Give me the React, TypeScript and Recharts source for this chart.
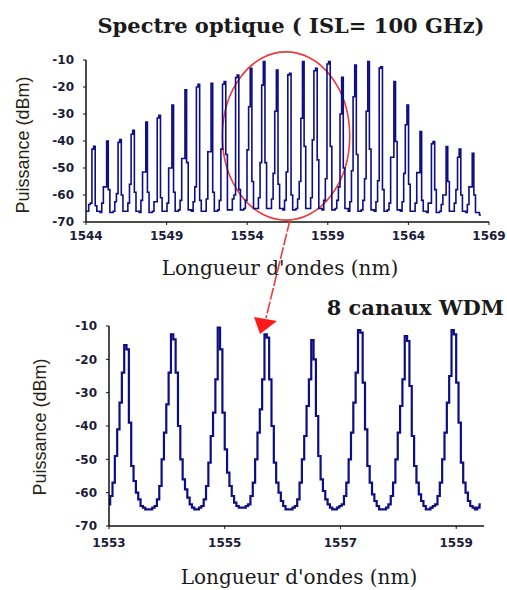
import React from "react";
import { LineChart, Line, XAxis, YAxis, ReferenceArea } from "recharts";

// ---- top spectrum: 30 channels on a 100 GHz grid ----
const topFirstChannel = 1544.52;
const topSpacing = 0.81;
const topSampleStep = 0.101;
const topPeak = [
  -42, -40, -39.5, -36, -33, -30.5, -26.7, -21, -19, -18.6,
  -18, -15.6, -13.1, -10.6, -13.7, -14.9, -10.6, -13.1, -10.6, -16.4,
  -11.9, -10.6, -12.5, -18, -26.7, -36.5, -40.2, -42.1, -43, -44.6,
];
const topInner = [
  -43, -57, -40.5, -37.5, -51.5, -31.5, -50, -46.5, -20, -44,
  -19, -16.5, -27.3, -19.3, -29, -15.5, -31.6, -14, -11.5, -30,
  -23.6, -29, -13, -46, -34, -51.7, -41, -60, -46, -57,
];
const topShoulderL = [
  -63, -57, -59.5, -56, -51.5, -62.5, -50, -46.5, -57, -44,
  -43, -60, -43.3, -48, -52, -51.5, -55, -39.6, -54, -57,
  -51, -54, -54.7, -46, -52, -51.7, -63, -60, -58, -57,
];
const topShoulderR = [
  -64, -58, -60, -59, -59, -61, -59, -48, -62, -59,
  -45, -58, -55, -48, -56, -60, -42, -47, -42, -50,
  -45, -43, -58, -40.2, -56, -62, -58, -55, -60, -60,
];
const topBump = [
  -63.5, -63, -62.5, -63, -62, -62.5, -63, -62, -62.5, -61.5,
  -62, -61.5, -62, -61, -61.5, -62, -61.5, -61, -62, -62,
  -62.5, -62, -62.5, -63, -62.5, -63, -63, -63.5, -63, -63.5,
];
const topValley = [
  -66, -66.5, -66, -66, -66.5, -66, -66, -65.5, -66, -66,
  -65.5, -65.5, -65, -65, -65, -65.5, -65, -65, -65.5, -65,
  -66, -65.5, -66, -65.5, -66, -66, -66.5, -66, -66, -66.5,
];
const topEdges = [
  { x: 1544.0, y: -66 },
  { x: 1568.5, y: -67.4 },
];
const topTicks = [1544, 1549, 1554, 1559, 1564, 1569];

// ---- zoom on 8 WDM channels (one row per channel) ----
const wdmStart = 1553.0;
const wdmStep = 0.0404;
const wdmRows = [
  [-63.5, -61, -57, -49, -41, -33, -24, -15.7, -17, -39, -52, -56.5, -60, -62, -64, -64.5, -65, -65, -65, -64.5],
  [-64, -62, -58, -50, -42, -33.5, -24, -12.5, -14, -24, -40, -50, -56, -59, -61.5, -63.5, -64.5, -65, -65, -64.5],
  [-64, -62, -58, -51, -43, -36, -26, -10.5, -17, -36, -47, -54, -58, -61, -63, -64, -64.5, -64.5, -64.5, -64],
  [-63.5, -61, -57, -50, -42, -35, -26, -12.5, -13.5, -26, -40, -51, -57, -60, -62.5, -64, -65, -65, -65, -64.5],
  [-64, -62, -57, -50, -43, -34, -26, -14.2, -20, -37, -49, -56, -59.5, -62, -63.5, -64.5, -65, -65, -64.5, -64],
  [-63.5, -61, -57, -50, -42, -33, -24, -11.2, -12, -27, -41, -52, -57, -60.5, -62.5, -64, -65, -65, -65, -64.5],
  [-63.5, -61, -57, -50, -42, -34, -26, -13, -14.5, -28, -43, -52, -57, -60.5, -62.5, -64, -65, -65, -64.5, -64],
  [-63.5, -61, -57, -50, -42, -33, -25, -11.2, -12.5, -27, -39, -51, -57, -60, -62.5, -64, -64.5, -65, -64.5, -63.5],
];
const wdmTicks = [1553, 1555, 1557, 1559];
const powerTicks = [-70, -60, -50, -40, -30, -20, -10];

const topData: { x: number; y: number }[] = [topEdges[0]];
topPeak.forEach((p, i) => {
  const c = topFirstChannel + i * topSpacing;
  const v = topValley[i];
  const samples = [v, topBump[i], topShoulderL[i], topInner[i], p, topShoulderR[i], v, v];
  samples.forEach((y, j) => topData.push({ x: +(c + (j - 4) * topSampleStep).toFixed(4), y }));
});
topData.push(topEdges[1]);

const wdmData = wdmRows.flat().map((y, i) => ({ x: +(wdmStart + i * wdmStep).toFixed(4), y }));

const lineColor = "#0e0e84";
const tickStyle = { fill: "#1c1c3a", fontSize: 12, fontWeight: 700, fontFamily: "DejaVu Sans" };
const axisLine = { stroke: "#111", strokeWidth: 1.5 };
const serif = "'DejaVu Serif', serif";

const ellipseShape = (p: any) => (
  <ellipse
    cx={p.x + p.width / 2}
    cy={p.y + p.height / 2}
    rx={Math.abs(p.width) / 2}
    ry={Math.abs(p.height) / 2}
    fill="none"
    stroke="#ee3b3b"
    strokeWidth={1.6}
  />
);

const yTitle = (cx: number, cy: number) => (
  <div
    style={{
      position: "absolute",
      left: cx,
      top: cy,
      transform: "translate(-50%, -50%) rotate(-90deg)",
      fontFamily: "'Liberation Sans', sans-serif",
      fontSize: 18,
      color: "#2a1f14",
      whiteSpace: "nowrap",
      lineHeight: "20px",
    }}
  >
    Puissance (dBm)
  </div>
);

const xTitle = (cx: number, top: number) => (
  <div
    style={{
      position: "absolute",
      left: cx,
      top,
      transform: "translateX(-50%)",
      fontFamily: serif,
      fontSize: 20,
      lineHeight: "24px",
      whiteSpace: "nowrap",
      color: "#1a1a1a",
    }}
  >
    Longueur d'ondes (nm)
  </div>
);

export default function App() {
  return (
    <div style={{ position: "absolute", left: 0, top: 0, width: 507, height: 590, background: "#fff", overflow: "hidden" }}>
      <div
        style={{
          position: "absolute",
          left: 291,
          top: 14,
          transform: "translateX(-50%)",
          fontFamily: serif,
          fontWeight: 700,
          fontSize: 21,
          lineHeight: "24px",
          whiteSpace: "nowrap",
          color: "#1a1a1a",
        }}
      >
        Spectre optique ( ISL= 100 GHz)
      </div>

      <div style={{ position: "absolute", left: 0, top: 0 }}>
        <LineChart width={507} height={290} data={topData} margin={{ top: 60, right: 18, bottom: 38, left: 56 }}>
          <XAxis
            dataKey="x"
            type="number"
            domain={[1544, 1569]}
            ticks={topTicks}
            allowDataOverflow
            height={30}
            axisLine={axisLine}
            tickLine={{ stroke: "#111" }}
            tickSize={3}
            tickMargin={6}
            tick={tickStyle}
          />
          <YAxis
            type="number"
            domain={[-70, -10]}
            ticks={powerTicks}
            width={30}
            axisLine={axisLine}
            tickLine={{ stroke: "#111" }}
            tickSize={3}
            tickMargin={9}
            tick={tickStyle}
          />
          <Line dataKey="y" type="step" stroke={lineColor} strokeWidth={1.6} dot={false} isAnimationActive={false} />
          <ReferenceArea x1={1552.46} x2={1560.36} y1={-69.3} y2={-7} ifOverflow="visible" shape={ellipseShape} />
        </LineChart>
      </div>

      {yTitle(23, 145)}
      {xTitle(280, 256)}

      <div
        style={{
          position: "absolute",
          right: 3,
          top: 296,
          fontFamily: serif,
          fontWeight: 700,
          fontSize: 21,
          lineHeight: "24px",
          whiteSpace: "nowrap",
          color: "#1a1a1a",
        }}
      >
        8 canaux WDM
      </div>

      <div style={{ position: "absolute", left: 0, top: 290 }}>
        <LineChart width={507} height={300} data={wdmData} margin={{ top: 36, right: 23, bottom: 34, left: 79 }}>
          <XAxis
            dataKey="x"
            type="number"
            domain={[1553, 1559.48]}
            ticks={wdmTicks}
            allowDataOverflow
            height={30}
            axisLine={axisLine}
            tickLine={{ stroke: "#111" }}
            tickSize={3}
            tickMargin={9}
            tick={tickStyle}
          />
          <YAxis
            type="number"
            domain={[-70, -10]}
            ticks={powerTicks}
            width={30}
            axisLine={axisLine}
            tickLine={{ stroke: "#111" }}
            tickSize={3}
            tickMargin={9}
            tick={tickStyle}
          />
          <Line dataKey="y" type="step" stroke={lineColor} strokeWidth={2.2} dot={false} isAnimationActive={false} />
        </LineChart>
      </div>

      {yTitle(40, 427)}
      {xTitle(299, 565)}

      <svg width={507} height={590} style={{ position: "absolute", left: 0, top: 0, pointerEvents: "none" }}>
        <line x1={290} y1={220} x2={266} y2={318} stroke="#ee3b3b" strokeWidth={1.6} strokeDasharray="12 2" />
        <polygon points="254,317 277,321 260,334" fill="#ff1a1a" />
      </svg>
    </div>
  );
}
